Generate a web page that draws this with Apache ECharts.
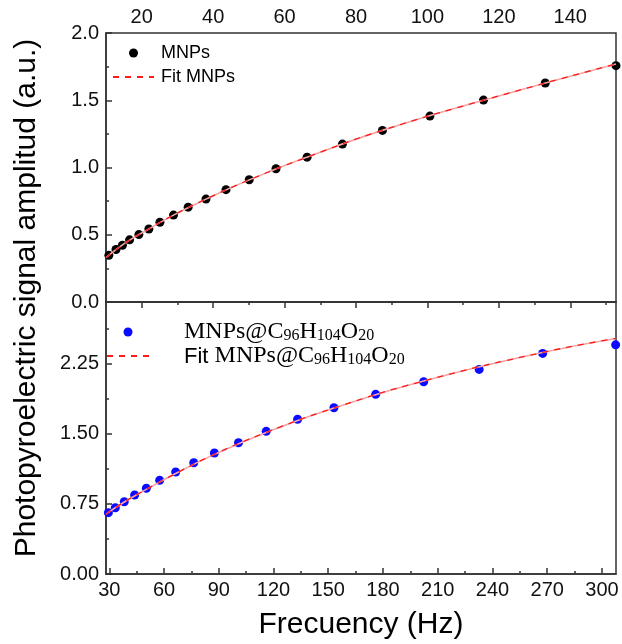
<!DOCTYPE html>
<html>
<head>
<meta charset="utf-8">
<script src="https://cdn.jsdelivr.net/npm/echarts@6/dist/echarts.min.js"></script>
<style>html,body{margin:0;padding:0;background:#fff}#c{width:622px;height:644px}</style>
</head>
<body>
<div id="c"></div>
<script>
// ---- data ----
const topFreq = [10.8,12.8,14.6,16.6,19.2,22.0,25.1,28.9,33.0,38.0,43.6,50.1,57.6,66.3,76.2,87.4,100.7,115.7,133.0,152.8];
const topAmp  = [0.347,0.390,0.422,0.462,0.501,0.543,0.593,0.646,0.705,0.765,0.835,0.909,0.991,1.077,1.174,1.276,1.382,1.501,1.628,1.757];
const topFitFreq = [10,12.8,16.6,22.0,28.9,38.0,50.1,66.3,87.4,115.7,152.8];
const topFitAmp  = [0.330,0.390,0.460,0.543,0.646,0.765,0.908,1.077,1.276,1.500,1.770];

const botFreq = [29.5,33.3,38.2,43.9,50.3,57.6,66.4,76.3,87.6,100.8,116.0,133.2,153.1,176.0,202.3,232.7,267.5,307.5];
const botAmp  = [0.656,0.709,0.773,0.845,0.917,1.002,1.091,1.190,1.294,1.404,1.526,1.655,1.779,1.922,2.057,2.189,2.360,2.452];
const botFitFreq = [28.2,38.2,50.3,66.4,87.6,116.0,153.1,202.3,267.5,307.7];
const botFitAmp  = [0.640,0.770,0.905,1.075,1.280,1.515,1.775,2.065,2.370,2.520];

const topXMajor = [20,40,60,80,100,120,140];
const topXMinor = [10,30,50,70,90,110,130,150];
const botXMajor = [30,60,90,120,150,180,210,240,270,300];
const botXMinor = [45,75,105,135,165,195,225,255,285];
const topYMajor = [0,0.5,1.0,1.5,2.0];
const topYMinor = [0.25,0.75,1.25,1.75];
const botYMajor = [0,0.75,1.5,2.25];
const botYMinor = [0.375,1.125,1.875,2.625];

const nameTop = 'MNPs', nameTopFit = 'Fit MNPs';
const nameBot = 'MNPs@C96H104O20', nameBotFit = 'Fit MNPs@C96H104O20';
// ---------------------------------------

const zip = (a, b) => a.map((v, i) => [v, b[i]]);
const SANS = 'Liberation Sans, Arial, sans-serif';
const SERIF = 'Liberation Serif, Times New Roman, serif';
const AX = '#333';
const lblFont = 20;

function xAxisMain(grid, pos, min, max, major) {
  return {
    gridIndex: grid, type: 'value', position: pos, min: min, max: max,
    axisLine: {show: true, lineStyle: {color: AX, width: 1.5}},
    axisTick: {show: true, inside: true, length: 6, lineStyle: {color: AX, width: 1.5}, customValues: major},
    axisLabel: {show: true, customValues: major, color: '#111', fontFamily: SANS, fontSize: lblFont, margin: 6},
    splitLine: {show: false}
  };
}
function xAxisMinor(grid, pos, min, max, minor) {
  return {
    gridIndex: grid, type: 'value', position: pos, min: min, max: max,
    axisLine: {show: false},
    axisTick: {show: true, inside: true, length: 3, lineStyle: {color: AX, width: 1.5}, customValues: minor},
    axisLabel: {show: false},
    splitLine: {show: false}
  };
}
function yAxisMain(grid, min, max, major, dec) {
  return {
    gridIndex: grid, type: 'value', position: 'left', min: min, max: max,
    axisLine: {show: true, lineStyle: {color: AX, width: 1.5}},
    axisTick: {show: true, inside: true, length: 6, lineStyle: {color: AX, width: 1.5}, customValues: major},
    axisLabel: {show: true, customValues: major, color: '#111', fontFamily: SANS, fontSize: lblFont, margin: 7,
      formatter: v => Number(v).toFixed(dec)},
    splitLine: {show: false}
  };
}
function yAxisMinor(grid, min, max, minor) {
  return {
    gridIndex: grid, type: 'value', position: 'left', min: min, max: max,
    axisLine: {show: false},
    axisTick: {show: true, inside: true, length: 3, lineStyle: {color: AX, width: 1.5}, customValues: minor},
    axisLabel: {show: false},
    splitLine: {show: false}
  };
}

const richBot = {
  r: {fontFamily: SERIF, fontSize: 24, lineHeight: 24, verticalAlign: 'bottom', color: '#000'},
  s: {fontFamily: SERIF, fontSize: 16, lineHeight: 11, verticalAlign: 'bottom', color: '#000'},
  f: {fontFamily: SANS, fontSize: 22, lineHeight: 24, verticalAlign: 'bottom', color: '#000'}
};
function botLabel(name) {
  const chem = '{r|MNPs@C}{s|96}{r|H}{s|104}{r|O}{s|20}';
  return name === nameBotFit ? '{f|Fit }' + chem : chem;
}

const chart = echarts.init(document.getElementById('c'), null, {renderer: 'canvas'});
chart.setOption({
  animation: false,
  backgroundColor: '#fff',
  grid: [
    {left: 106, right: 6, top: 33, height: 269, show: true, borderColor: AX, borderWidth: 1.5, backgroundColor: 'transparent'},
    {left: 106, right: 6, top: 302, bottom: 70, show: true, borderColor: AX, borderWidth: 1.5, backgroundColor: 'transparent'}
  ],
  xAxis: [
    xAxisMain(0, 'top', 10, 152.8, topXMajor),
    xAxisMinor(0, 'top', 10, 152.8, topXMinor),
    Object.assign(xAxisMain(1, 'bottom', 28.2, 307.7, botXMajor), {
      name: 'Frecuency (Hz)', nameLocation: 'middle', nameGap: 36,
      nameTextStyle: {fontFamily: SANS, fontSize: 30, color: '#000'}
    }),
    xAxisMinor(1, 'bottom', 28.2, 307.7, botXMinor)
  ],
  yAxis: [
    yAxisMain(0, 0, 2.0, topYMajor, 1),
    yAxisMinor(0, 0, 2.0, topYMinor),
    yAxisMain(1, 0, 2.91, botYMajor, 2),
    yAxisMinor(1, 0, 2.91, botYMinor)
  ],
  legend: [
    {
      data: [nameTop, {name: nameTopFit, itemStyle: {opacity: 0}}], orient: 'vertical', left: 107, top: 39,
      itemWidth: 41, itemHeight: 9, itemGap: 6,
      textStyle: {fontFamily: SANS, fontSize: 18, color: '#000', padding: [0, 0, 0, 2]}
    },
    {
      data: [nameBot, {name: nameBotFit, itemStyle: {opacity: 0}}], orient: 'vertical', left: 101, top: 315,
      itemWidth: 42, itemHeight: 9, itemGap: 0,
      formatter: botLabel,
      textStyle: {rich: richBot, padding: [0, 0, 0, 30]}
    }
  ],
  graphic: [{
    type: 'text', x: 27, y: 298, rotation: Math.PI / 2,
    style: {text: 'Photopyroelectric signal amplitud (a.u.)', fontFamily: SANS, fontSize: 30,
      fill: '#000', textAlign: 'center', textVerticalAlign: 'middle'}
  }],
  series: [
    {name: nameTop, type: 'scatter', xAxisIndex: 0, yAxisIndex: 0, data: zip(topFreq, topAmp),
      symbol: 'circle', symbolSize: 9, itemStyle: {color: '#000', opacity: 1}, z: 2},
    {name: 'fitTopUnder', type: 'line', xAxisIndex: 0, yAxisIndex: 0, data: zip(topFitFreq, topFitAmp),
      smooth: true, symbol: 'none', lineStyle: {color: '#f6a5a5', width: 1.6}, z: 3},
    {name: nameTopFit, type: 'line', xAxisIndex: 0, yAxisIndex: 0, data: zip(topFitFreq, topFitAmp),
      smooth: true, symbol: 'none', itemStyle: {color: '#ff1a1a'},
      lineStyle: {color: '#ff1a1a', width: 1.3, type: [6, 6]}, z: 4},
    {name: nameBot, type: 'scatter', xAxisIndex: 2, yAxisIndex: 2, data: zip(botFreq, botAmp),
      symbol: 'circle', symbolSize: 9, itemStyle: {color: '#0a0aff', opacity: 1}, z: 2},
    {name: 'fitBotUnder', type: 'line', xAxisIndex: 2, yAxisIndex: 2, data: zip(botFitFreq, botFitAmp),
      smooth: true, symbol: 'none', lineStyle: {color: '#f6a5a5', width: 1.6}, z: 3},
    {name: nameBotFit, type: 'line', xAxisIndex: 2, yAxisIndex: 2, data: zip(botFitFreq, botFitAmp),
      smooth: true, symbol: 'none', itemStyle: {color: '#ff1a1a'},
      lineStyle: {color: '#ff1a1a', width: 1.3, type: [6, 6]}, z: 4}
  ]
});
</script>
</body>
</html>
